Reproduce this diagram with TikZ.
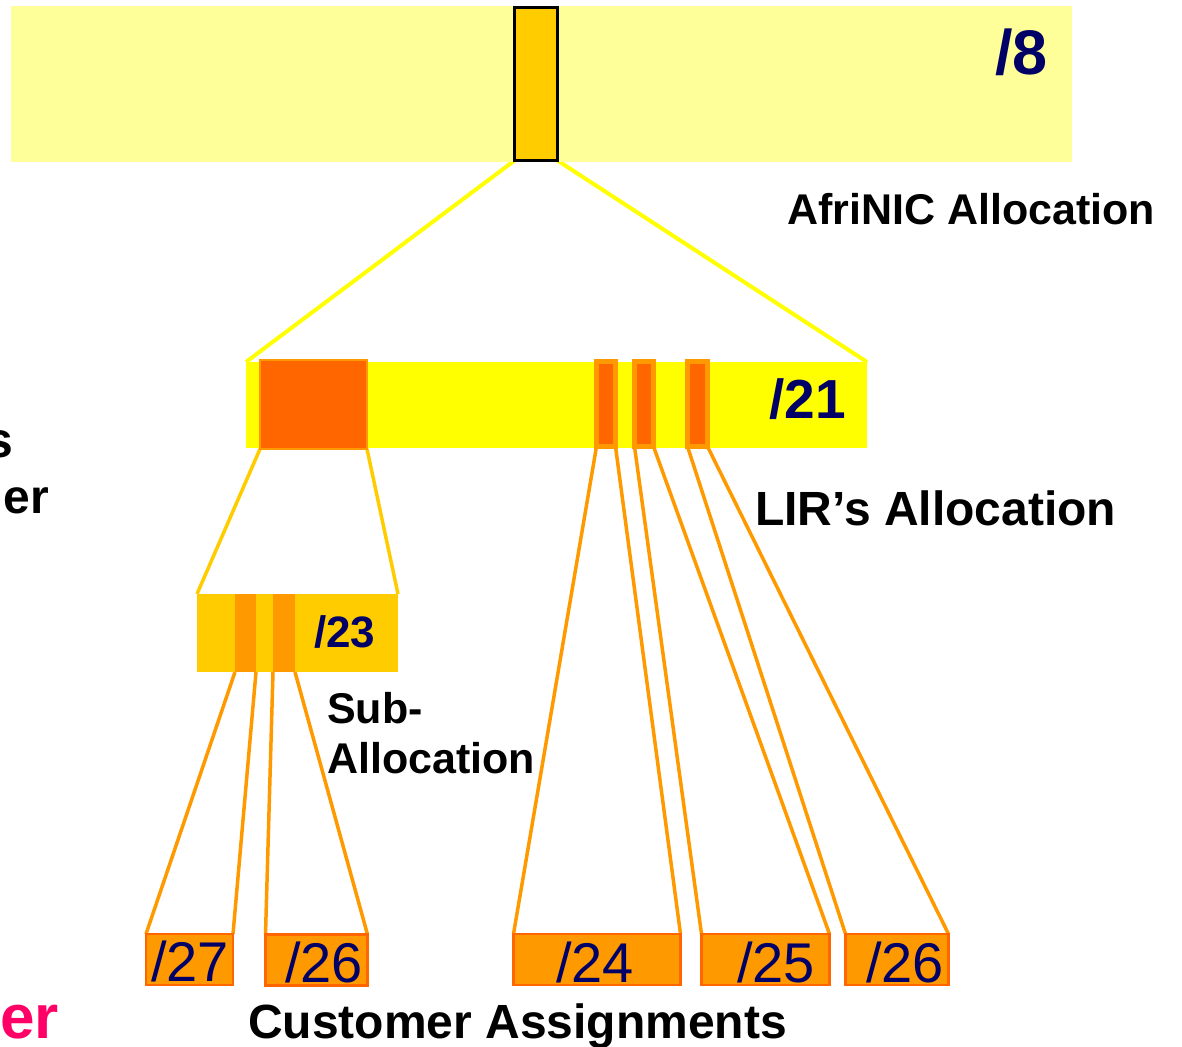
\documentclass[tikz,border=0pt]{standalone}
\usepackage{fontspec}
\setmainfont{Liberation Sans}
\definecolor{palebar}{HTML}{FFFF99}
\definecolor{lirbar}{HTML}{FFFF00}
\definecolor{gold}{HTML}{FFCC00}
\definecolor{amber}{HTML}{FF9900}
\definecolor{deeporange}{HTML}{FF6600}
\definecolor{navyblue}{HTML}{000066}
\definecolor{hotpink}{HTML}{FF0066}
\pgfdeclarelayer{background}
\pgfsetlayers{background,main}
\tikzset{
  blockbox/.style={rectangle, inner sep=0pt, outer sep=0pt},
  custbox/.style={blockbox, fill=amber, draw=deeporange, line width=2.5pt},
  stripebar/.style={blockbox, fill=deeporange, draw=amber, line width=5pt},
  caption/.style={inner sep=0pt, font=\bfseries\fontsize{43}{50}\selectfont},
  bigcaption/.style={inner sep=0pt, font=\bfseries\fontsize{48}{56}\selectfont},
  sizedcaption/.style={inner sep=0pt, font=\bfseries\fontsize{#1}{#1}\selectfont},
  prefixbold/.style={inner sep=0pt, text=navyblue, font=\bfseries\fontsize{#1}{#1}\selectfont},
  prefixplain/.style={inner sep=0pt, text=navyblue, font=\fontsize{56}{56}\selectfont},
  yellowlink/.style={draw=lirbar, line width=4pt},
  goldlink/.style={draw=gold, line width=3.5pt},
  amberlink/.style={draw=amber, line width=3.5pt},
}
\begin{document}
\begin{tikzpicture}[x=1pt,y=-1pt]
\useasboundingbox (0,0) rectangle (1182,1046);

% /8 block with the allocated slice
\node[blockbox, fill=palebar, minimum width=1061pt, minimum height=156pt] (top) at (541.5,84) {};
\node[blockbox, fill=gold, draw=black, line width=3pt, minimum width=43pt, minimum height=153pt] (slice) at (536,84) {};
\node[prefixbold=63, anchor=base west] (l8) at (995,75) {/8};
\node[caption, anchor=base west] (afrinic) at (787,224) {AfriNIC Allocation};

% /21 block
\node[blockbox, fill=lirbar, minimum width=621pt, minimum height=86pt] (lir) at (556.5,405) {};
\node[blockbox, fill=deeporange, draw=amber, line width=2pt, minimum width=107pt, minimum height=89pt] (sub) at (313.5,404.5) {};
\node[stripebar, minimum width=19pt, minimum height=85pt] (c1) at (606,404) {};
\node[stripebar, minimum width=19pt, minimum height=85pt] (c2) at (644,404) {};
\node[stripebar, minimum width=20pt, minimum height=85pt] (c3) at (697.5,404) {};
\node[prefixbold=55, anchor=base west] (l21) at (769,418) {/21};
\node[bigcaption, anchor=base west] (lirlabel) at (755,525) {LIR’s Allocation};

% /23 sub-allocation
\node[blockbox, fill=gold, minimum width=201pt, minimum height=78pt] (suba) at (297.5,633) {};
\node[blockbox, fill=amber, minimum width=21pt, minimum height=78pt] (s1) at (245.5,633) {};
\node[blockbox, fill=amber, minimum width=22pt, minimum height=78pt] (s2) at (284,633) {};
\node[prefixbold=44, anchor=base west] (l23) at (314,647) {/23};
\node[caption, anchor=base west] (subl1) at (327,723) {Sub-};
\node[caption, anchor=base west] (subl2) at (327,773) {Allocation};

% customer assignments
\node[custbox, minimum width=87pt, minimum height=51pt] (a27) at (189.5,959.5) {};
\node[custbox, minimum width=102pt, minimum height=51pt] (a26) at (316.5,960) {};
\node[custbox, minimum width=167pt, minimum height=51pt] (a24) at (597,959.5) {};
\node[custbox, minimum width=128pt, minimum height=51pt] (a25) at (765.5,959.5) {};
\node[custbox, minimum width=103pt, minimum height=51pt] (a26b) at (897,959.5) {};
\node[prefixplain, anchor=base west] (l27) at (151,981) {/27};
\node[prefixplain, anchor=base west] (l26) at (285,982) {/26};
\node[prefixplain, anchor=base west] (l24) at (556,982) {/24};
\node[prefixplain, anchor=base west] (l25) at (737,982) {/25};
\node[prefixplain, anchor=base west] (l26b) at (866,982) {/26};
\node[bigcaption, anchor=base west] (custlabel) at (248,1038) {Customer Assignments};

% word endings that run in from beyond the left edge
\node[sizedcaption=50, anchor=base east] (edge1) at (14,457) {s};
\node[sizedcaption=48, anchor=base east] (edge2) at (49,513) {er};
\node[sizedcaption=62, text=hotpink, anchor=base east] (edge3) at (59,1038) {er};

% expansion lines
\begin{pgfonlayer}{background}
\draw[yellowlink] (slice.south west) -- (lir.north west);
\draw[yellowlink] (slice.south east) -- (lir.north east);
\draw[goldlink] (sub.south west) -- (suba.north west);
\draw[goldlink] (sub.south east) -- (suba.north east);
\draw[amberlink] (s1.south west) -- (a27.north west);
\draw[amberlink] (s1.south east) -- (a27.north east);
\draw[amberlink] (s2.south west) -- (a26.north west);
\draw[amberlink] (s2.south east) -- (a26.north east);
\draw[amberlink] (c1.south west) -- (a24.north west);
\draw[amberlink] (c1.south east) -- (a24.north east);
\draw[amberlink] (c2.south west) -- (a25.north west);
\draw[amberlink] (c2.south east) -- (a25.north east);
\draw[amberlink] (c3.south west) -- (a26b.north west);
\draw[amberlink] (c3.south east) -- (a26b.north east);
\end{pgfonlayer}
\end{tikzpicture}
\end{document}
